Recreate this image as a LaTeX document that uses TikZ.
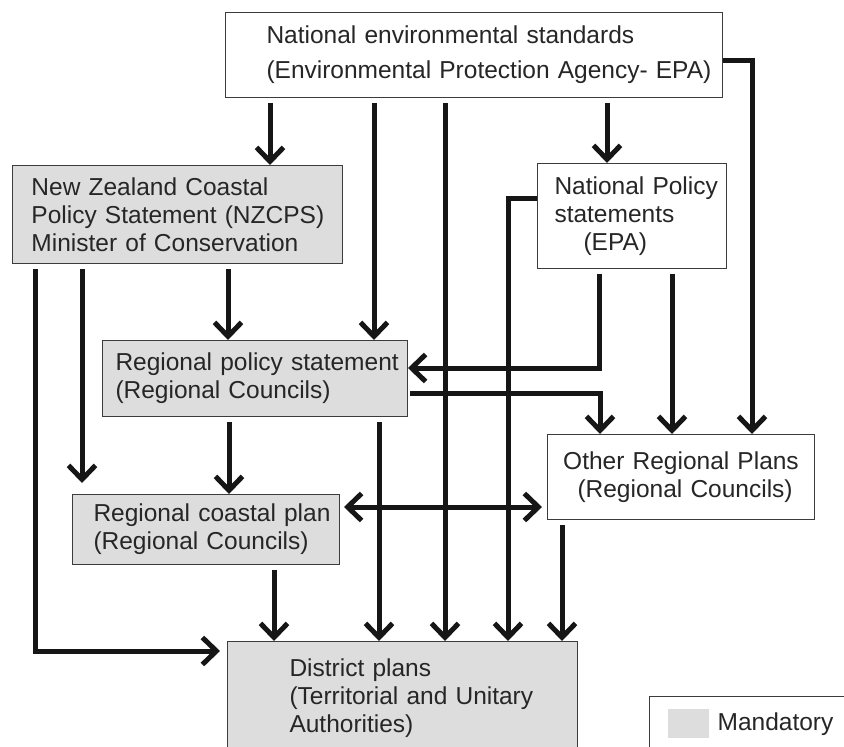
\documentclass[tikz,border=0pt]{standalone}
\usepackage{fontspec}
\setmainfont{Liberation Sans}
\usetikzlibrary{arrows.meta,positioning}
\definecolor{mandgray}{HTML}{DDDDDD}
\definecolor{framegray}{HTML}{3C3C3C}
\definecolor{inkgray}{HTML}{161616}
\tikzset{
  plan/.style={draw=framegray, line width=1pt, fill=white, anchor=north west,
    inner xsep=0pt, inner ysep=0pt, align=left, text=black!85,
    font=\fontsize{24.5}{28}\selectfont},
  mandplan/.style={plan, fill=mandgray},
  leftpad/.style={execute at begin node={\leftskip=#1\relax}},
  barb/.tip={Straight Barb[length=14pt,width=27pt,line width=5pt]},
  arr/.style={draw=inkgray, line width=5pt, shorten <=5pt, -barb},
}
\begin{document}
\begin{tikzpicture}[x=1pt,y=-1pt]
    \useasboundingbox (0,0) rectangle (844,747);
    \clip (0,0) rectangle (844,747);
    \fill[white] (0,0) rectangle (844,747);
    % boxes
    \node[plan, leftpad=41pt, text width=497pt, minimum height=85pt,
      font=\fontsize{24.5}{35}\selectfont] (NES) at (225,12)
      {National environmental standards\\(Environmental Protection Agency- EPA)};
    \node[mandplan, leftpad=19pt, text width=330pt, minimum height=98pt] (NZCPS) at (12,165)
      {New Zealand Coastal\\Policy Statement (NZCPS)\\Minister of Conservation};
    \node[plan, leftpad=17pt, text width=189pt, minimum height=105pt] (NPS) at (537,163)
      {National Policy\\statements\\\hspace*{29pt}(EPA)};
    \node[mandplan, leftpad=13pt, text width=305pt, minimum height=76pt] (RPS) at (102,340)
      {Regional policy statement\\(Regional Councils)};
    \node[plan, align=center, text width=267pt, minimum height=85pt] (ORP) at (547,434)
      {Other Regional Plans\\ \ (Regional Councils)};
    \node[mandplan, leftpad=21pt, text width=267pt, minimum height=70pt] (RCP) at (72,494)
      {Regional coastal plan\\(Regional Councils)};
    \node[mandplan, leftpad=62pt, text width=350pt, minimum height=114pt] (DP) at (227,641)
      {District plans\\(Territorial and Unitary\\Authorities)};
    % legend
    \node[plan, minimum width=230pt, minimum height=80pt] (legend) at (649,696) {};
    \node[fill=mandgray, anchor=north west, inner sep=0pt,
      minimum width=41pt, minimum height=29pt] (mandkey) at (668,709) {};
    \node[right=8pt of mandkey, inner sep=0pt, text=black!85,
      font=\fontsize{24.5}{28}\selectfont] (mandlabel) {Mandatory};
    % straight arrows
    \path ([xshift=45pt]NES.south west) edge [arr] ([xshift=258pt]NZCPS.north west);
    \path ([xshift=149pt]NES.south west) edge [arr] ([xshift=272pt]RPS.north west);
    \path ([xshift=220pt]NES.south west) edge [arr] ([xshift=218pt]DP.north west);
    \path ([xshift=382pt]NES.south west) edge [arr] ([xshift=70pt]NPS.north west);
    \path ([xshift=70pt]NZCPS.south west) edge [arr, shorten >=11pt] ([xshift=10pt]RCP.north west);
    \path ([xshift=216pt]NZCPS.south west) edge [arr] ([xshift=126pt]RPS.north west);
    \path ([xshift=135pt]NPS.south west) edge [arr] ([xshift=125pt]ORP.north west);
    \path ([xshift=127pt]RPS.south west) edge [arr] ([xshift=157pt]RCP.north west);
    \path ([xshift=277pt]RPS.south west) edge [arr] ([xshift=152pt]DP.north west);
    \path ([xshift=202pt]RCP.south west) edge [arr] ([xshift=47pt]DP.north west);
    \path ([xshift=15pt]ORP.south west) edge [arr] ([xshift=335pt]DP.north west);
    % elbow arrows
    \draw[arr, shorten <=0pt] ([yshift=-48pt]NES.north east) -| ([xshift=205pt]ORP.north west);
    \draw[arr] ([xshift=23pt]NZCPS.south west) |- ([yshift=-10pt,xshift=-7pt]DP.north west);
    \draw[arr, shorten <=0pt] ([yshift=-35pt]NPS.north west) -| ([xshift=281pt]DP.north west);
    \draw[arr] ([xshift=62pt]NPS.south west) |- ([yshift=-28pt]RPS.north east);
    \draw[arr, shorten <=2pt] ([yshift=-53pt]RPS.north east) -| ([xshift=53pt]ORP.north west);
    \draw[arr, shorten <=4pt, shorten >=5pt, barb-barb]
      ([yshift=-13pt]RCP.north east) -- ([yshift=-73pt]ORP.north west);
\end{tikzpicture}
\end{document}
